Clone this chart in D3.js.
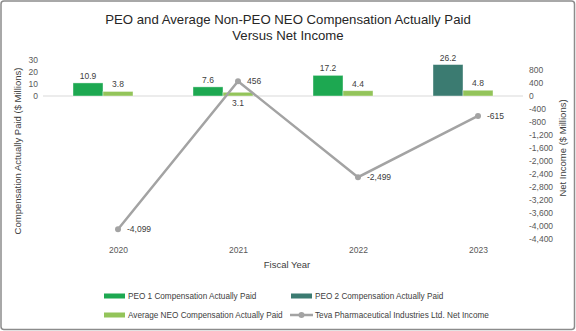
<!DOCTYPE html>
<html>
<head>
<meta charset="utf-8">
<script src="https://cdn.jsdelivr.net/npm/d3@7"></script>
<style>
  body { margin: 0; background: #fff; }
  svg { display: block; font-family: "Liberation Sans", Arial, sans-serif; }
</style>
</head>
<body>
<svg width="576" height="331"></svg>
<script>
const years = ['2020', '2021', '2022', '2023'];
const peoComp = [10.9, 7.6, 17.2, 26.2];
const peoWho = ['PEO 1', 'PEO 1', 'PEO 1', 'PEO 2'];
const neoComp = [3.8, 3.1, 4.4, 4.8];
const netIncome = [-4099, 456, -2499, -615];
const leftTicks = [0, 10, 20, 30];
const rightTicks = [800, 400, 0, -400, -800, -1200, -1600, -2000, -2400, -2800, -3200, -3600, -4000, -4400];

const colors = { 'PEO 1': '#1da851', 'PEO 2': '#3b7b71', neo: '#93c45a', line: '#a3a3a3' };

const svg = d3.select('svg');
const WIDTH = +svg.attr('width');
const HEIGHT = +svg.attr('height');

// border
svg.append('rect')
    .attr('x', 1).attr('y', 1)
    .attr('width', WIDTH - 2.5).attr('height', HEIGHT - 2.5)
    .attr('rx', 3)
    .style('fill', '#fff')
    .style('stroke', '#8c8c8c')
    .style('stroke-width', 1.5);

// title
svg.append('text')
    .attr('x', 288).attr('y', 24)
    .style('text-anchor', 'middle').style('font-size', '13.2px').style('fill', '#262626')
    .text('PEO and Average Non-PEO NEO Compensation Actually Paid');
svg.append('text')
    .attr('x', 288).attr('y', 40)
    .style('text-anchor', 'middle').style('font-size', '13.2px').style('fill', '#262626')
    .text('Versus Net Income');

const xScale = d3.scaleBand().domain(years).range([43, 523]);
const subScale = d3.scaleBand().domain(['peo', 'neo']).range([30, 90]);
const xPoint = d3.scalePoint().domain(years).range([118, 478]);
const yLeft = d3.scaleLinear().domain([0, 30]).range([96, 60]);
const yRight = d3.scaleLinear().domain([-4400, 800]).range([239, 70]);

// zero gridline
svg.append('line')
    .attr('x1', 43).attr('x2', 523)
    .attr('y1', yLeft(0)).attr('y2', yLeft(0))
    .style('stroke', '#d9d9d9').style('stroke-width', 1);

// axes
const axisLeft = d3.axisLeft(yLeft).tickValues(leftTicks).tickSize(0).tickPadding(0);
const gl = svg.append('g').attr('transform', 'translate(38,0)').call(axisLeft);
const axisRight = d3.axisRight(yRight).tickValues(rightTicks).tickSize(0).tickPadding(0)
    .tickFormat(d3.format(','));
const gr = svg.append('g').attr('transform', 'translate(529,0)').call(axisRight);
[gl, gr].forEach(g => {
    g.select('.domain').remove();
    g.selectAll('text').style('font-size', '8.5px').style('fill', '#595959')
        .style('font-family', '"Liberation Sans", Arial, sans-serif');
});
gr.selectAll('text').text(d => d < 0 ? '-' + d3.format(',')(-d) : d3.format(',')(d));

const axisX = d3.axisBottom(xPoint).tickSize(0).tickPadding(0);
const gx = svg.append('g').attr('transform', 'translate(0,247)').call(axisX);
gx.select('.domain').remove();
gx.selectAll('text').style('font-size', '8.5px').style('fill', '#595959')
    .style('font-family', '"Liberation Sans", Arial, sans-serif');

// axis titles
svg.append('text')
    .attr('transform', 'translate(21,151) rotate(-90)')
    .style('text-anchor', 'middle').style('font-size', '9.5px').style('fill', '#404040')
    .text('Compensation Actually Paid ($ Millions)');
svg.append('text')
    .attr('transform', 'translate(566,148) rotate(-90)')
    .style('text-anchor', 'middle').style('font-size', '9.5px').style('fill', '#404040')
    .text('Net Income ($ Millions)');
svg.append('text')
    .attr('x', 287).attr('y', 268)
    .style('text-anchor', 'middle').style('font-size', '9.5px').style('fill', '#404040')
    .text('Fiscal Year');

// bars
const barData = [];
years.forEach((y, i) => {
    barData.push({ year: y, key: 'peo', value: peoComp[i], color: colors[peoWho[i]] });
    barData.push({ year: y, key: 'neo', value: neoComp[i], color: colors.neo });
});

svg.selectAll('.bar')
    .data(barData)
    .enter().append('rect')
    .attr('class', 'bar')
    .attr('x', d => xScale(d.year) + subScale(d.key))
    .attr('y', d => yLeft(d.value))
    .attr('width', subScale.bandwidth())
    .attr('height', d => yLeft(0) - yLeft(d.value))
    .style('fill', d => d.color)
    .style('stroke', '#ffffff').style('stroke-opacity', 0.5).style('stroke-width', 0.8);

svg.selectAll('.bar-label')
    .data(barData)
    .enter().append('text')
    .attr('class', 'bar-label')
    .attr('x', d => xScale(d.year) + subScale(d.key) + subScale.bandwidth() / 2)
    .attr('y', d => (d.year === '2021' && d.key === 'neo') ? yLeft(0) + 10 : yLeft(d.value) - 4)
    .style('text-anchor', 'middle').style('font-size', '8.5px').style('fill', '#404040')
    .text(d => d.value.toFixed(1));

// net income line
const lineData = years.map((y, i) => ({ year: y, value: netIncome[i] }));
svg.append('path')
    .datum(lineData)
    .attr('d', d3.line().x(d => xPoint(d.year)).y(d => yRight(d.value)))
    .style('fill', 'none').style('stroke', colors.line).style('stroke-width', 2.5);
svg.selectAll('.pt')
    .data(lineData)
    .enter().append('circle')
    .attr('class', 'pt')
    .attr('cx', d => xPoint(d.year)).attr('cy', d => yRight(d.value))
    .attr('r', 3)
    .style('fill', colors.line);
svg.selectAll('.pt-label')
    .data(lineData)
    .enter().append('text')
    .attr('class', 'pt-label')
    .attr('x', d => xPoint(d.year) + 9)
    .attr('y', d => yRight(d.value) + 3)
    .style('font-size', '8.5px').style('fill', '#404040')
    .text(d => d.value < 0 ? '-' + d3.format(',')(-d.value) : d3.format(',')(d.value));

// legend
const legendItems = [
    { label: 'PEO 1 Compensation Actually Paid', color: colors['PEO 1'], type: 'bar', x: 104, y: 296 },
    { label: 'PEO 2 Compensation Actually Paid', color: colors['PEO 2'], type: 'bar', x: 291, y: 296 },
    { label: 'Average NEO Compensation Actually Paid', color: colors.neo, type: 'bar', x: 104, y: 315 },
    { label: 'Teva Pharmaceutical Industries Ltd. Net Income', color: colors.line, type: 'line', x: 290, y: 315 }
];
const lg = svg.selectAll('.legend')
    .data(legendItems)
    .enter().append('g')
    .attr('class', 'legend')
    .attr('transform', d => 'translate(' + d.x + ',' + d.y + ')');
lg.filter(d => d.type === 'bar').append('rect')
    .attr('x', 0).attr('y', -2.5).attr('width', 21).attr('height', 5)
    .style('fill', d => d.color);
lg.filter(d => d.type === 'line').append('line')
    .attr('x1', 0).attr('x2', 23).attr('y1', 0).attr('y2', 0)
    .style('stroke', d => d.color).style('stroke-width', 2.5);
lg.filter(d => d.type === 'line').append('circle')
    .attr('cx', 11.5).attr('cy', 0).attr('r', 3)
    .style('fill', d => d.color);
lg.append('text')
    .attr('x', d => d.type === 'bar' ? 24 : 25)
    .attr('y', 3)
    .style('font-size', '8.2px').style('fill', '#404040')
    .text(d => d.label);
</script>
</body>
</html>
